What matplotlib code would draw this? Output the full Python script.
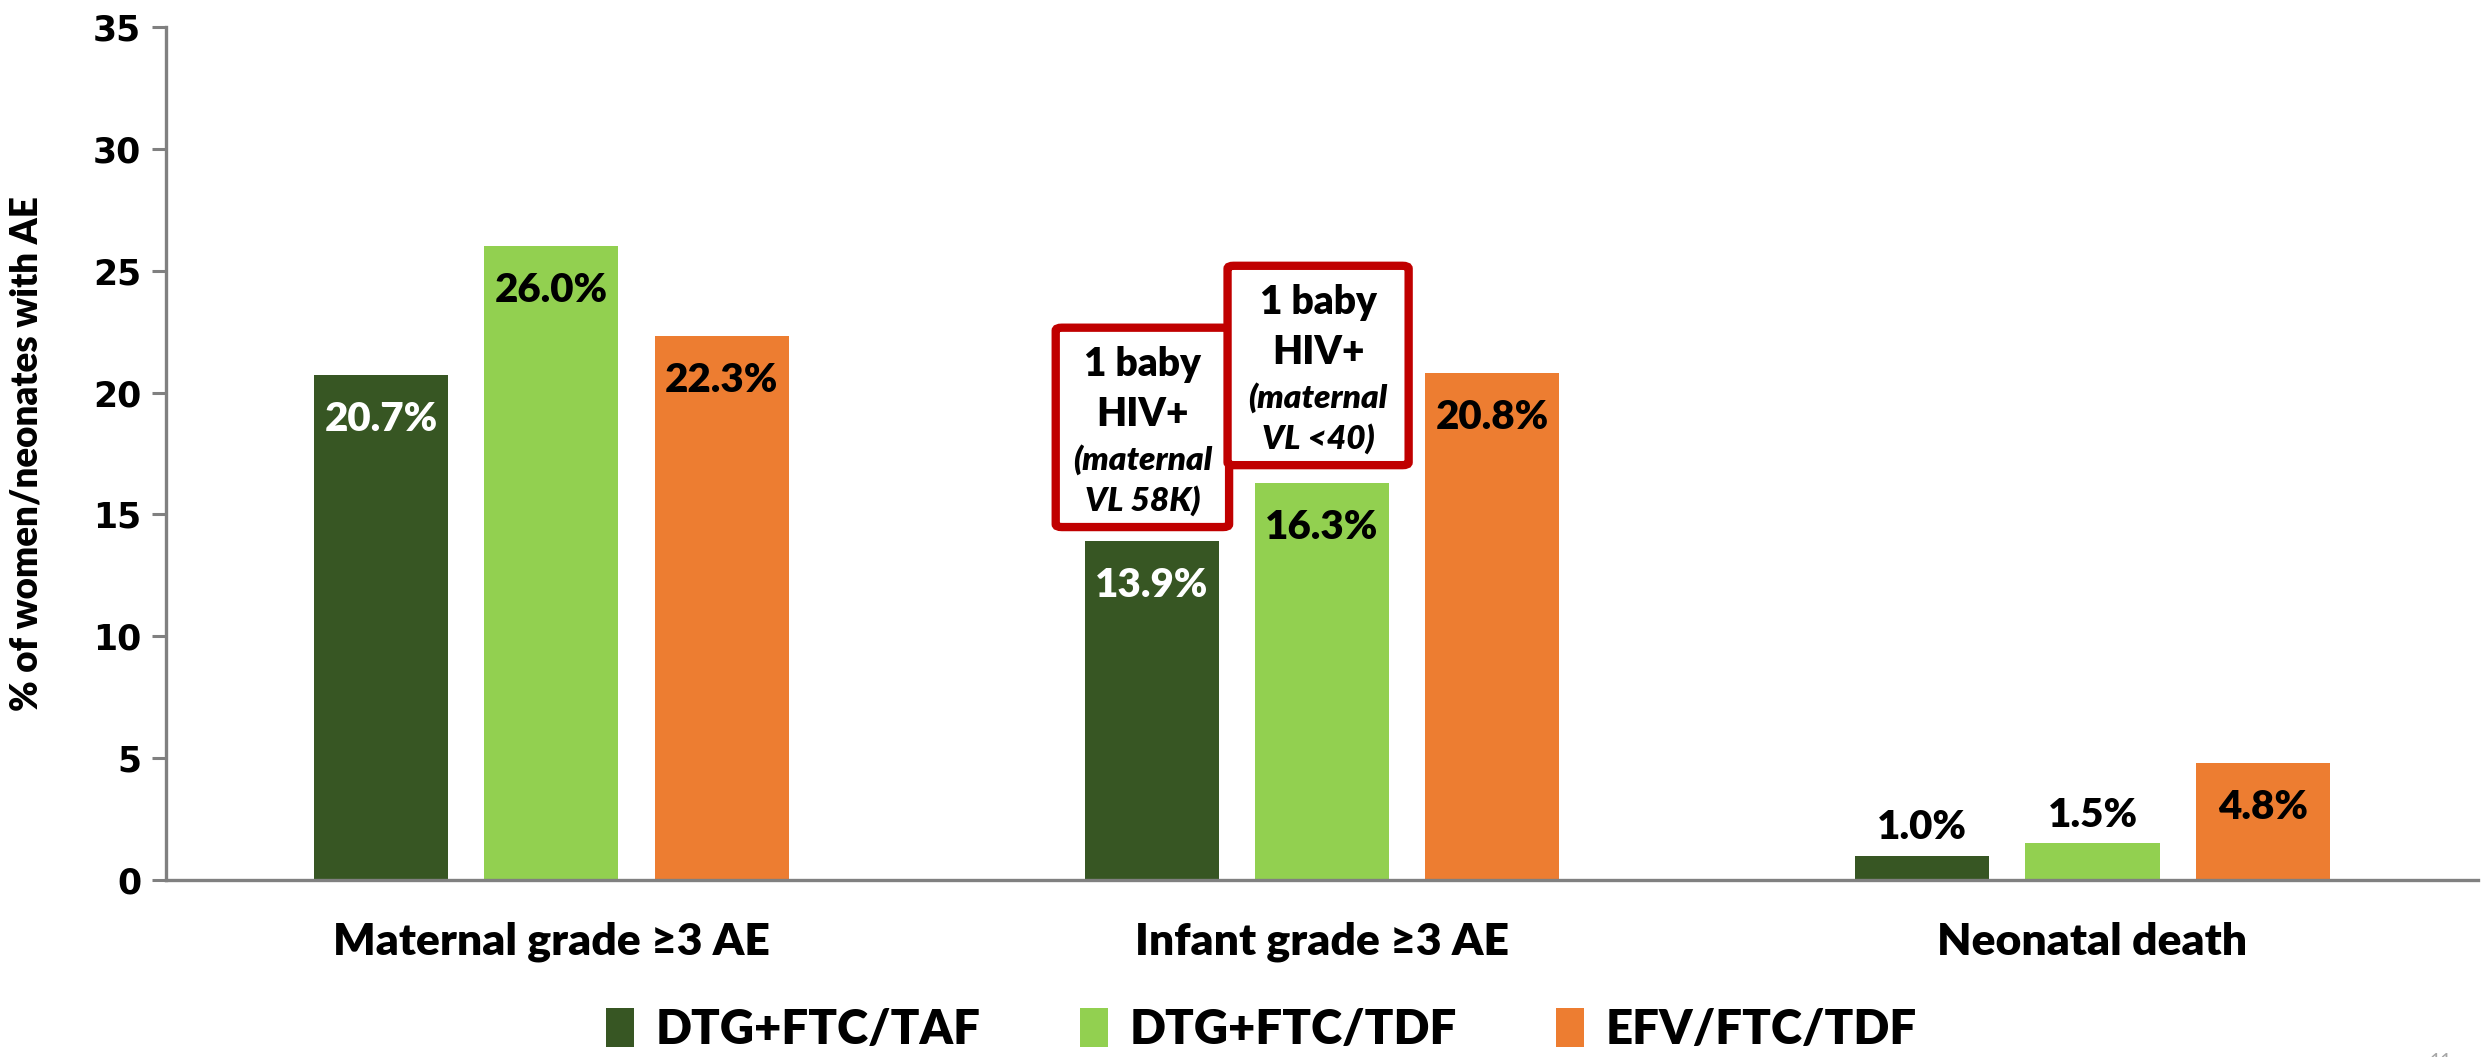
import matplotlib
matplotlib.use("Agg")
import matplotlib.pyplot as plt
from matplotlib.patches import FancyBboxPatch
import numpy as np

categories = ["Maternal grade \u22653 AE", "Infant grade \u22653 AE", "Neonatal death"]
series_names = ["DTG+FTC/TAF", "DTG+FTC/TDF", "EFV/FTC/TDF"]
taf_values = [20.7, 13.9, 1.0]
tdf_values = [26.0, 16.3, 1.5]
efv_values = [22.3, 20.8, 4.8]
yticks = [0, 5, 10, 15, 20, 25, 30, 35]

colors = ["#375623", "#92D050", "#ED7D31"]
# label placement per bar: inside (True) or above (False), and text colour
inside = [[True, True, False], [True, True, False], [True, True, True]]
label_colors = [["white", "white", "black"], ["black", "black", "black"], ["black", "black", "black"]]

body_font = ["Lato", "DejaVu Sans"]

fig = plt.figure(figsize=(24.83, 10.57), dpi=100)
ax = fig.add_axes([0.0669, 0.1675, 0.931, 0.807])

x = np.arange(len(categories))
step = 0.221
width = 0.174
all_values = [taf_values, tdf_values, efv_values]
bars_by_series = []
for i, (vals, col) in enumerate(zip(all_values, colors)):
    bars = ax.bar(x + (i - 1) * step, vals, width, color=col, label=series_names[i], zorder=2)
    bars_by_series.append(bars)
    for j, (b, v) in enumerate(zip(bars, vals)):
        cx = b.get_x() + b.get_width() / 2
        dy = -32 if inside[i][j] else 20
        ax.annotate(f"{v:.1f}%", (cx, v), xytext=(0, dy), textcoords="offset points",
                    ha="center", va="center", fontsize=29, fontweight="heavy",
                    family=body_font, color=label_colors[i][j], zorder=3)

ax.set_xlim(-0.5, 2.5)
ax.set_ylim(0, 35)
ax.set_yticks(yticks)
ax.set_yticklabels([str(t) for t in yticks], fontsize=25, fontweight="bold", family="DejaVu Sans")
ax.set_xticks(x)
ax.set_xticklabels(categories, fontsize=32, fontweight="heavy", family=body_font)
ax.tick_params(axis="x", length=0, pad=30)
ax.tick_params(axis="y", length=10, width=2.2, color="#808080", pad=8, direction="out")

for side in ["top", "right"]:
    ax.spines[side].set_visible(False)
for side in ["left", "bottom"]:
    ax.spines[side].set_color("#808080")
    ax.spines[side].set_linewidth(2.4)

ax.set_ylabel("% of women/neonates with AE", fontsize=26.5, fontweight="heavy",
              family=body_font)
ax.yaxis.set_label_coords(-0.053, 0.5)

# callout boxes over the infant DTG bars
notes = [("1 baby", "HIV+", "(maternal", "VL 58K)"),
         ("1 baby", "HIV+", "(maternal", "VL <40)")]
box_tops = [22.66, 25.2]
box_h = 8.18
box_widths = [0.225, 0.235]
box_shift = [-0.012, -0.005]
offsets = [1.49, 3.57, 5.39, 7.08]
for k, (lines, top) in enumerate(zip(notes, box_tops)):
    cx = bars_by_series[k][1].get_x() + width / 2 + box_shift[k]
    bw = box_widths[k]
    patch = FancyBboxPatch((cx - bw / 2, top - box_h), bw, box_h,
                           boxstyle="round,pad=0,rounding_size=0.008",
                           facecolor="white", edgecolor="#C00000", linewidth=6, zorder=4,
                           mutation_aspect=15)
    ax.add_patch(patch)
    for n, (line, off) in enumerate(zip(lines, offsets)):
        if n < 2:
            ax.text(cx, top - off, line, ha="center", va="center", fontsize=28,
                    fontweight="heavy", family=body_font, zorder=5)
        else:
            ax.text(cx, top - off, line, ha="center", va="center", fontsize=24,
                    fontweight="heavy", fontstyle="italic", family=body_font, zorder=5)

leg = fig.legend(loc="center", bbox_to_anchor=(0.508, 0.026), ncol=3, frameon=False,
                 prop={"family": body_font, "weight": "heavy", "size": 34},
                 handlelength=0.6, handleheight=0.9, handletextpad=0.45, columnspacing=2.1)

fig.text(0.983, -0.004, "11", fontsize=14, color="#A6A6A6", ha="center", va="center",
         family=body_font)

fig.savefig("out.png", dpi=100)
